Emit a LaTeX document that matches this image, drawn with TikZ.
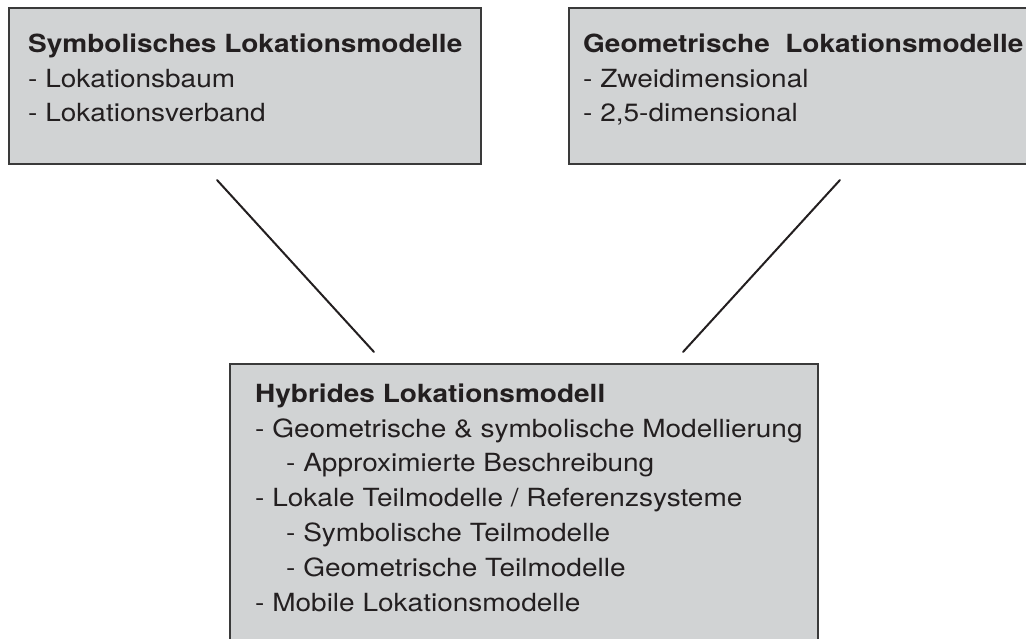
\documentclass[tikz,border=0pt]{standalone}
\usepackage{fontspec}
\setmainfont{TeX Gyre Heros}[FakeStretch=1.12]
\definecolor{boxfill}{HTML}{D1D3D4}
\definecolor{boxline}{HTML}{3A3A3A}
\definecolor{ink}{HTML}{231F20}
\tikzset{
  modelbox/.style={draw=boxline, line width=2pt, fill=boxfill, rectangle,
    inner sep=0pt, anchor=north west},
  % anchored at the baseline of the last line of the block
  boxtext/.style={anchor=base west, align=left, inner sep=0pt, text=ink,
    font=\fontsize{25}{34.8}\selectfont},
  link/.style={draw=ink, line width=2pt, line cap=round}
}
\newcommand{\boxtitle}[1]{{\fontsize{25}{34.8}\selectfont\bfseries #1}}
\newcommand{\indentitem}{\hspace*{31pt}}
\begin{document}
\begin{tikzpicture}[x=1pt,y=-1pt]
  \useasboundingbox (0,0) rectangle (1026,639);
  \clip (0,0) rectangle (1026,639);

  % the three model boxes
  \node[modelbox, minimum width=472pt, minimum height=156pt] (sym) at (8,7) {};
  \node[modelbox, minimum width=470pt, minimum height=156pt] (geo) at (568,7) {};
  \node[modelbox, minimum width=588pt, minimum height=300pt] (hyb) at (229,363) {};

  % box contents
  \node[boxtext] (symtext) at (28,122) {\boxtitle{Symbolisches Lokationsmodelle}\\
    - Lokationsbaum\\
    - Lokationsverband};
  \node[boxtext] (geotext) at (583,122) {\boxtitle{Geometrische\ \ Lokationsmodelle}\\
    - Zweidimensional\\
    - 2,5-dimensional};
  \node[boxtext] (hybtext) at (255,611) {\boxtitle{Hybrides Lokationsmodell}\\
    - Geometrische \& symbolische Modellierung\\
    \indentitem- Approximierte Beschreibung\\
    - Lokale Teilmodelle / Referenzsysteme\\
    \indentitem- Symbolische Teilmodelle\\
    \indentitem- Geometrische Teilmodelle\\
    - Mobile Lokationsmodelle};

  % connectors between the models
  \coordinate (symfoot) at (217,180);
  \coordinate (hybleft) at (374,352);
  \coordinate (geofoot) at (840,180);
  \coordinate (hybright) at (683,352);
  \draw[link] (symfoot) -- (hybleft);
  \draw[link] (geofoot) -- (hybright);
\end{tikzpicture}
\end{document}
